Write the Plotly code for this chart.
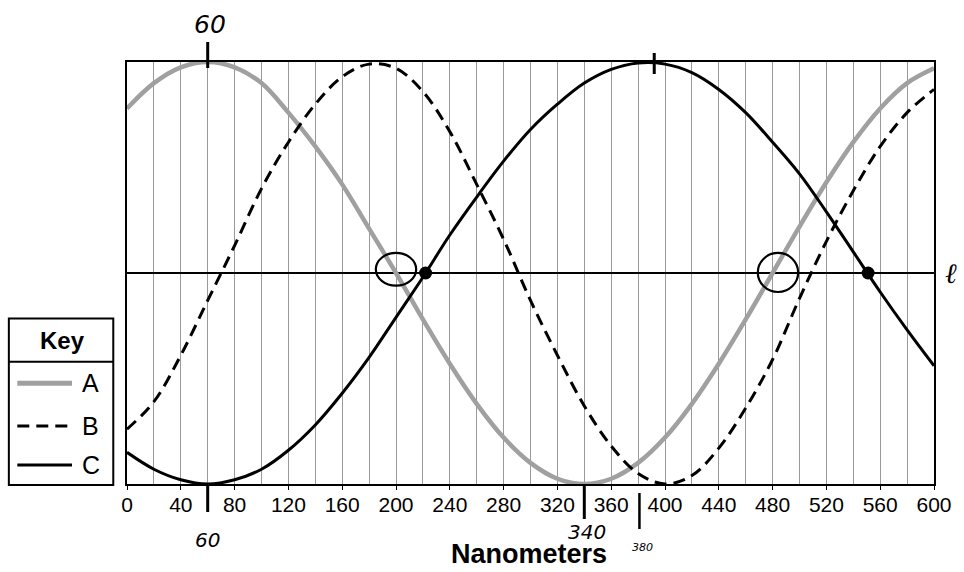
import plotly.graph_objects as go

# ---- data ----
nm = [0, 20, 40, 60, 80, 100, 120, 140, 160, 180, 200, 220, 240, 260, 280, 300,
      320, 340, 360, 380, 400, 420, 440, 460, 480, 500, 520, 540, 560, 580, 600]
wave_A = [0.78, 0.90, 0.975, 1.0, 0.975, 0.90, 0.76, 0.60, 0.42, 0.21, 0.0, -0.22,
          -0.43, -0.62, -0.78, -0.90, -0.975, -1.0, -0.975, -0.90, -0.78, -0.62,
          -0.43, -0.22, 0.0, 0.22, 0.43, 0.62, 0.78, 0.90, 0.97]
wave_B = [-0.74, -0.61, -0.39, -0.13, 0.13, 0.40, 0.62, 0.80, 0.93, 0.99, 0.97,
          0.86, 0.67, 0.42, 0.16, -0.13, -0.39, -0.63, -0.82, -0.95, -1.0, -0.96,
          -0.83, -0.64, -0.41, -0.12, 0.15, 0.39, 0.60, 0.76, 0.87]
wave_C = [-0.85, -0.93, -0.98, -1.0, -0.98, -0.93, -0.84, -0.72, -0.57, -0.40,
          -0.21, -0.02, 0.18, 0.36, 0.53, 0.68, 0.80, 0.90, 0.965, 0.995, 0.99,
          0.95, 0.87, 0.76, 0.62, 0.47, 0.29, 0.10, -0.09, -0.27, -0.44]
tick_vals = [0, 40, 80, 120, 160, 200, 240, 280, 320, 360, 400, 440, 480, 520, 560, 600]
series_names = ["A", "B", "C"]
marked_x = [222, 551]          # dots on line l
circled_x = [200, 484]         # hand-drawn circles on line l

GRAY = "#a0a0a0"
fig = go.Figure()
fig.add_trace(go.Scatter(x=nm, y=wave_A, mode="lines", line=dict(color=GRAY, width=4.5, shape="spline"), name="A"))
fig.add_trace(go.Scatter(x=nm, y=wave_B, mode="lines", line=dict(color="black", width=3, dash="12px,7px", shape="spline"), name="B"))
fig.add_trace(go.Scatter(x=nm, y=wave_C, mode="lines", line=dict(color="black", width=3, shape="spline"), name="C"))
fig.add_trace(go.Scatter(x=marked_x, y=[0, 0], mode="markers", marker=dict(color="black", size=13), showlegend=False))

shapes = []
annotations = []

def px2paper_x(px):
    return (px - 127.3) / 811.4
def px2paper_y(py):
    return (484 - py) / 422

def note(x, y, text, size, family="Liberation Sans", xref="paper", yref="paper", xanchor="center"):
    annotations.append(dict(xref=xref, yref=yref, x=x, y=y, text=text, showarrow=False,
                            xanchor=xanchor, yanchor="middle",
                            font=dict(size=size, family=family, color="black")))

# hand-drawn circles
circle_h = [(-0.06, 0.095), (-0.09, 0.095)]
for cx, (ya, yb) in zip(circled_x, circle_h):
    shapes.append(dict(type="circle", xref="x", yref="y", x0=cx - 15, x1=cx + 15, y0=ya, y1=yb,
                       line=dict(color="black", width=2.2)))

# legend box ("Key")
shapes.append(dict(type="rect", xref="paper", yref="paper", x0=px2paper_x(8.5), x1=px2paper_x(113.5),
                   y0=px2paper_y(485), y1=px2paper_y(318.5), line=dict(color="black", width=2), fillcolor="white"))
shapes.append(dict(type="line", xref="paper", yref="paper", x0=px2paper_x(8.5), x1=px2paper_x(113.5),
                   y0=px2paper_y(361.7), y1=px2paper_y(361.7), line=dict(color="black", width=2)))
note(px2paper_x(62), px2paper_y(340), "<b>Key</b>", 24)
legend_styles = [dict(color=GRAY, width=5), dict(color="black", width=3, dash="12px,7px"), dict(color="black", width=3)]
legend_y = [383.3, 426, 465]
for name, st, ly in zip(series_names, legend_styles, legend_y):
    shapes.append(dict(type="line", xref="paper", yref="paper", x0=px2paper_x(17), x1=px2paper_x(72),
                       y0=px2paper_y(ly), y1=px2paper_y(ly), line=st))
    note(px2paper_x(80), px2paper_y(ly), name, 25, xanchor="left")

# hand-drawn ticks & labels
HF = "DejaVu Sans"
shapes.append(dict(type="line", xref="x", yref="paper", x0=60, x1=60, y0=px2paper_y(68), y1=px2paper_y(42), line=dict(color="black", width=3)))
note(62, px2paper_y(24), "<i>60</i>", 25, HF, xref="x")
shapes.append(dict(type="line", xref="x", yref="paper", x0=392, x1=392, y0=px2paper_y(74), y1=px2paper_y(53), line=dict(color="black", width=3)))
shapes.append(dict(type="line", xref="x", yref="paper", x0=60, x1=60, y0=px2paper_y(485), y1=px2paper_y(512), line=dict(color="black", width=3)))
note(60, px2paper_y(540), "<i>60</i>", 20, HF, xref="x")
shapes.append(dict(type="line", xref="x", yref="paper", x0=340, x1=340, y0=px2paper_y(485), y1=px2paper_y(519), line=dict(color="black", width=3)))
note(342, px2paper_y(532), "<i>340</i>", 20, HF, xref="x")
shapes.append(dict(type="line", xref="x", yref="paper", x0=381, x1=381, y0=px2paper_y(493), y1=px2paper_y(529), line=dict(color="black", width=2.5)))
note(383, px2paper_y(547), "<i>380</i>", 11, HF, xref="x")
# line label l
note(px2paper_x(956), 0, "<i>ℓ</i>", 28, "DejaVu Serif", yref="y")
# axis title
note(px2paper_x(531), px2paper_y(554), "<b>Nanometers</b>", 27)

fig.update_layout(
    width=964, height=572,
    margin=dict(l=127, r=25, t=62, b=88),
    paper_bgcolor="white", plot_bgcolor="white",
    showlegend=False,
    shapes=shapes, annotations=annotations,
    xaxis=dict(range=[0, 600], tickvals=tick_vals, ticks="outside", ticklen=4, tickcolor="black",
               ticklabelstandoff=-3, ticklabeloverflow="allow",
               showgrid=True, gridcolor="#9a9a9a", gridwidth=1,
               minor=dict(dtick=20, showgrid=True, gridcolor="#9a9a9a", gridwidth=1),
               showline=True, linecolor="black", linewidth=2, mirror=True, zeroline=False,
               tickfont=dict(size=21, family="Liberation Sans", color="black")),
    yaxis=dict(range=[-1, 1], showticklabels=False, ticks="", showgrid=False,
               zeroline=True, zerolinecolor="black", zerolinewidth=2,
               showline=True, linecolor="black", linewidth=2, mirror=True),
)
# remove the default 8px page margin so the figure fills the window exactly
fig.write_html("out.html", config={"displayModeBar": False},
               post_script="document.body.style.margin='0';document.body.style.overflow='hidden';")
